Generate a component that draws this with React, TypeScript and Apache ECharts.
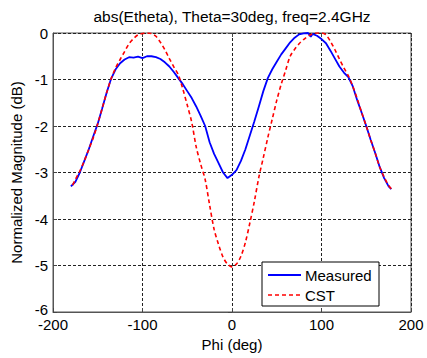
import React, { useEffect, useRef } from "react";
import * as echarts from "echarts";

const titleText = "abs(Etheta), Theta=30deg, freq=2.4GHz";
const xTicks = [-200, -100, 0, 100, 200];
const yTicks = [-6, -5, -4, -3, -2, -1, 0];
const seriesNames = ["Measured", "CST"];

const measuredPhi = [
  -180, -175, -170, -165, -160, -155, -150, -145, -140, -135, -130, -125, -120, -115, -110, -105,
  -100, -95, -90, -85, -80, -75, -70, -65, -60, -55, -50, -45, -40, -35, -30, -25, -20, -15, -10,
  -5, 0, 5, 10, 15, 20, 25, 30, 35, 40, 45, 50, 55, 60, 65, 70, 75, 80, 85, 88, 90, 95, 100, 105,
  110, 115, 120, 125, 130, 135, 140, 145, 150, 155, 160, 165, 170, 175, 178,
];
const measuredDb = [
  -3.3, -3.2, -3.0, -2.75, -2.5, -2.22, -1.95, -1.62, -1.28, -0.98, -0.78, -0.65, -0.57, -0.52,
  -0.53, -0.51, -0.54, -0.5, -0.5, -0.52, -0.56, -0.63, -0.72, -0.84, -0.97, -1.1, -1.25, -1.4,
  -1.58, -1.78, -2.0, -2.35, -2.6, -2.8, -3.0, -3.12, -3.05, -2.95, -2.75, -2.5, -2.2, -1.9,
  -1.58, -1.25, -0.97, -0.78, -0.62, -0.46, -0.33, -0.2, -0.1, -0.03, -0.01, 0.0, -0.08, -0.02,
  -0.06, -0.13, -0.22, -0.38, -0.55, -0.72, -0.85, -0.95, -1.15, -1.45, -1.72, -2.0, -2.3, -2.58,
  -2.88, -3.12, -3.3, -3.36,
];

const cstPhi = [
  -178, -175, -170, -165, -160, -155, -150, -145, -140, -135, -130, -125, -120, -115, -110, -105,
  -100, -95, -90, -85, -80, -75, -70, -65, -60, -55, -50, -45, -40, -35, -30, -25, -20, -15, -10,
  -5, 0, 5, 10, 15, 20, 25, 30, 35, 40, 45, 50, 55, 60, 65, 70, 75, 80, 85, 90, 95, 100, 105, 110,
  115, 120, 125, 130, 135, 140, 145, 150, 155, 160, 165, 170, 175, 178,
];
const cstDb = [
  -3.27, -3.15, -2.97, -2.75, -2.5, -2.25, -1.95, -1.62, -1.28, -0.98, -0.75, -0.57, -0.4, -0.23,
  -0.12, -0.04, -0.01, 0.0, -0.01, -0.07, -0.2, -0.36, -0.55, -0.73, -0.9, -1.2, -1.55, -1.92,
  -2.45, -2.82, -3.15, -3.7, -4.22, -4.55, -4.82, -4.97, -5.03, -4.97, -4.8, -4.5, -4.08, -3.62,
  -3.1, -2.68, -2.25, -1.85, -1.45, -1.1, -0.8, -0.5, -0.35, -0.23, -0.14, -0.07, -0.02, 0.0, 0.0,
  -0.04, -0.18, -0.36, -0.56, -0.75, -0.92, -1.15, -1.42, -1.72, -2.0, -2.3, -2.58, -2.88, -3.1,
  -3.28, -3.35,
];

const FONT = "'Liberation Sans', Arial, sans-serif";
const BLUE = "#0000ff";
const RED = "#ff0000";

export default function App() {
  const ref = useRef<HTMLDivElement>(null);
  useEffect(() => {
    if (!ref.current) return;
    const chart = echarts.init(ref.current, undefined, { renderer: "svg" });
    const gridLine = { show: true, lineStyle: { color: "#222", type: [3, 2] as any, width: 1 } };
    const tick = { show: true, inside: true, length: 4, lineStyle: { color: "#444" } };
    const lgX = 262;
    const lgY = 262;
    const Z = 100;
    chart.setOption({
      animation: false,
      backgroundColor: "#fff",
      textStyle: { fontFamily: FONT, color: "#000" },
      graphic: [
        {
          type: "text",
          x: 232,
          y: 16,
          style: {
            text: titleText,
            fontFamily: FONT,
            fontSize: 15.5,
            fill: "#000",
            align: "center",
            verticalAlign: "middle",
          },
        },
        {
          type: "rect",
          z: Z,
          shape: { x: lgX, y: lgY, width: 117, height: 44 },
          style: { fill: "#fff", stroke: "#000", lineWidth: 1 },
        },
        {
          type: "line",
          z: Z + 1,
          shape: { x1: lgX + 6, y1: lgY + 13, x2: lgX + 39, y2: lgY + 13 },
          style: { stroke: BLUE, lineWidth: 1.8 },
        },
        {
          type: "line",
          z: Z + 1,
          shape: { x1: lgX + 6, y1: lgY + 33, x2: lgX + 39, y2: lgY + 33 },
          style: { stroke: RED, lineWidth: 1.6, lineDash: [4, 3] },
        },
        {
          type: "text",
          z: Z + 1,
          x: lgX + 43,
          y: lgY + 13,
          style: {
            text: seriesNames[0],
            fontFamily: FONT,
            fontSize: 15,
            fill: "#000",
            verticalAlign: "middle",
          },
        },
        {
          type: "text",
          z: Z + 1,
          x: lgX + 43,
          y: lgY + 33,
          style: {
            text: seriesNames[1],
            fontFamily: FONT,
            fontSize: 15,
            fill: "#000",
            verticalAlign: "middle",
          },
        },
      ],
      grid: {
        left: 53,
        right: 16,
        top: 33,
        bottom: 46,
        show: true,
        borderColor: "#555",
        borderWidth: 1,
        backgroundColor: "#fff",
      },
      xAxis: [
        {
          type: "value",
          min: xTicks[0],
          max: xTicks[xTicks.length - 1],
          interval: 100,
          name: "Phi (deg)",
          nameLocation: "middle",
          nameGap: 22,
          nameTextStyle: { fontFamily: FONT, fontSize: 15, color: "#000" },
          axisLine: { show: true, onZero: false, lineStyle: { color: "#555" } },
          axisTick: tick,
          axisLabel: { fontFamily: FONT, fontSize: 15, color: "#000", margin: 5 },
          splitLine: gridLine,
        },
        {
          type: "value",
          position: "top",
          min: xTicks[0],
          max: xTicks[xTicks.length - 1],
          interval: 100,
          axisLine: { show: false },
          axisTick: tick,
          axisLabel: { show: false },
          splitLine: { show: false },
        },
      ],
      yAxis: [
        {
          type: "value",
          min: yTicks[0],
          max: yTicks[yTicks.length - 1],
          interval: 1,
          name: "Normalized Magnitude (dB)",
          nameLocation: "middle",
          nameGap: 26,
          nameTextStyle: { fontFamily: FONT, fontSize: 15, color: "#000" },
          axisLine: { show: true, onZero: false, lineStyle: { color: "#555" } },
          axisTick: tick,
          axisLabel: {
            fontFamily: FONT,
            fontSize: 15,
            color: "#000",
            margin: 5,
            formatter: (v: number) => (v === yTicks[0] ? "{lift|" + v + "}" : String(v)),
            rich: {
              lift: { fontFamily: FONT, fontSize: 15, color: "#000", padding: [0, 0, 6, 0] },
            },
          },
          splitLine: gridLine,
        },
        {
          type: "value",
          position: "right",
          min: yTicks[0],
          max: yTicks[yTicks.length - 1],
          interval: 1,
          axisLine: { show: false },
          axisTick: tick,
          axisLabel: { show: false },
          splitLine: { show: false },
        },
      ],
      series: [
        {
          name: seriesNames[0],
          type: "line",
          data: measuredPhi.map((p, i) => [p, measuredDb[i]]),
          symbol: "none",
          lineStyle: { color: BLUE, width: 1.8 },
          itemStyle: { color: BLUE },
          z: 3,
        },
        {
          name: seriesNames[1],
          type: "line",
          data: cstPhi.map((p, i) => [p, cstDb[i]]),
          symbol: "none",
          smooth: 0.3,
          lineStyle: { color: RED, width: 1.6, type: [4, 3] },
          itemStyle: { color: RED },
          z: 4,
        },
      ],
    });
    return () => chart.dispose();
  }, []);
  return <div ref={ref} style={{ width: 427, height: 358, position: "absolute", left: 0, top: 0 }} />;
}
